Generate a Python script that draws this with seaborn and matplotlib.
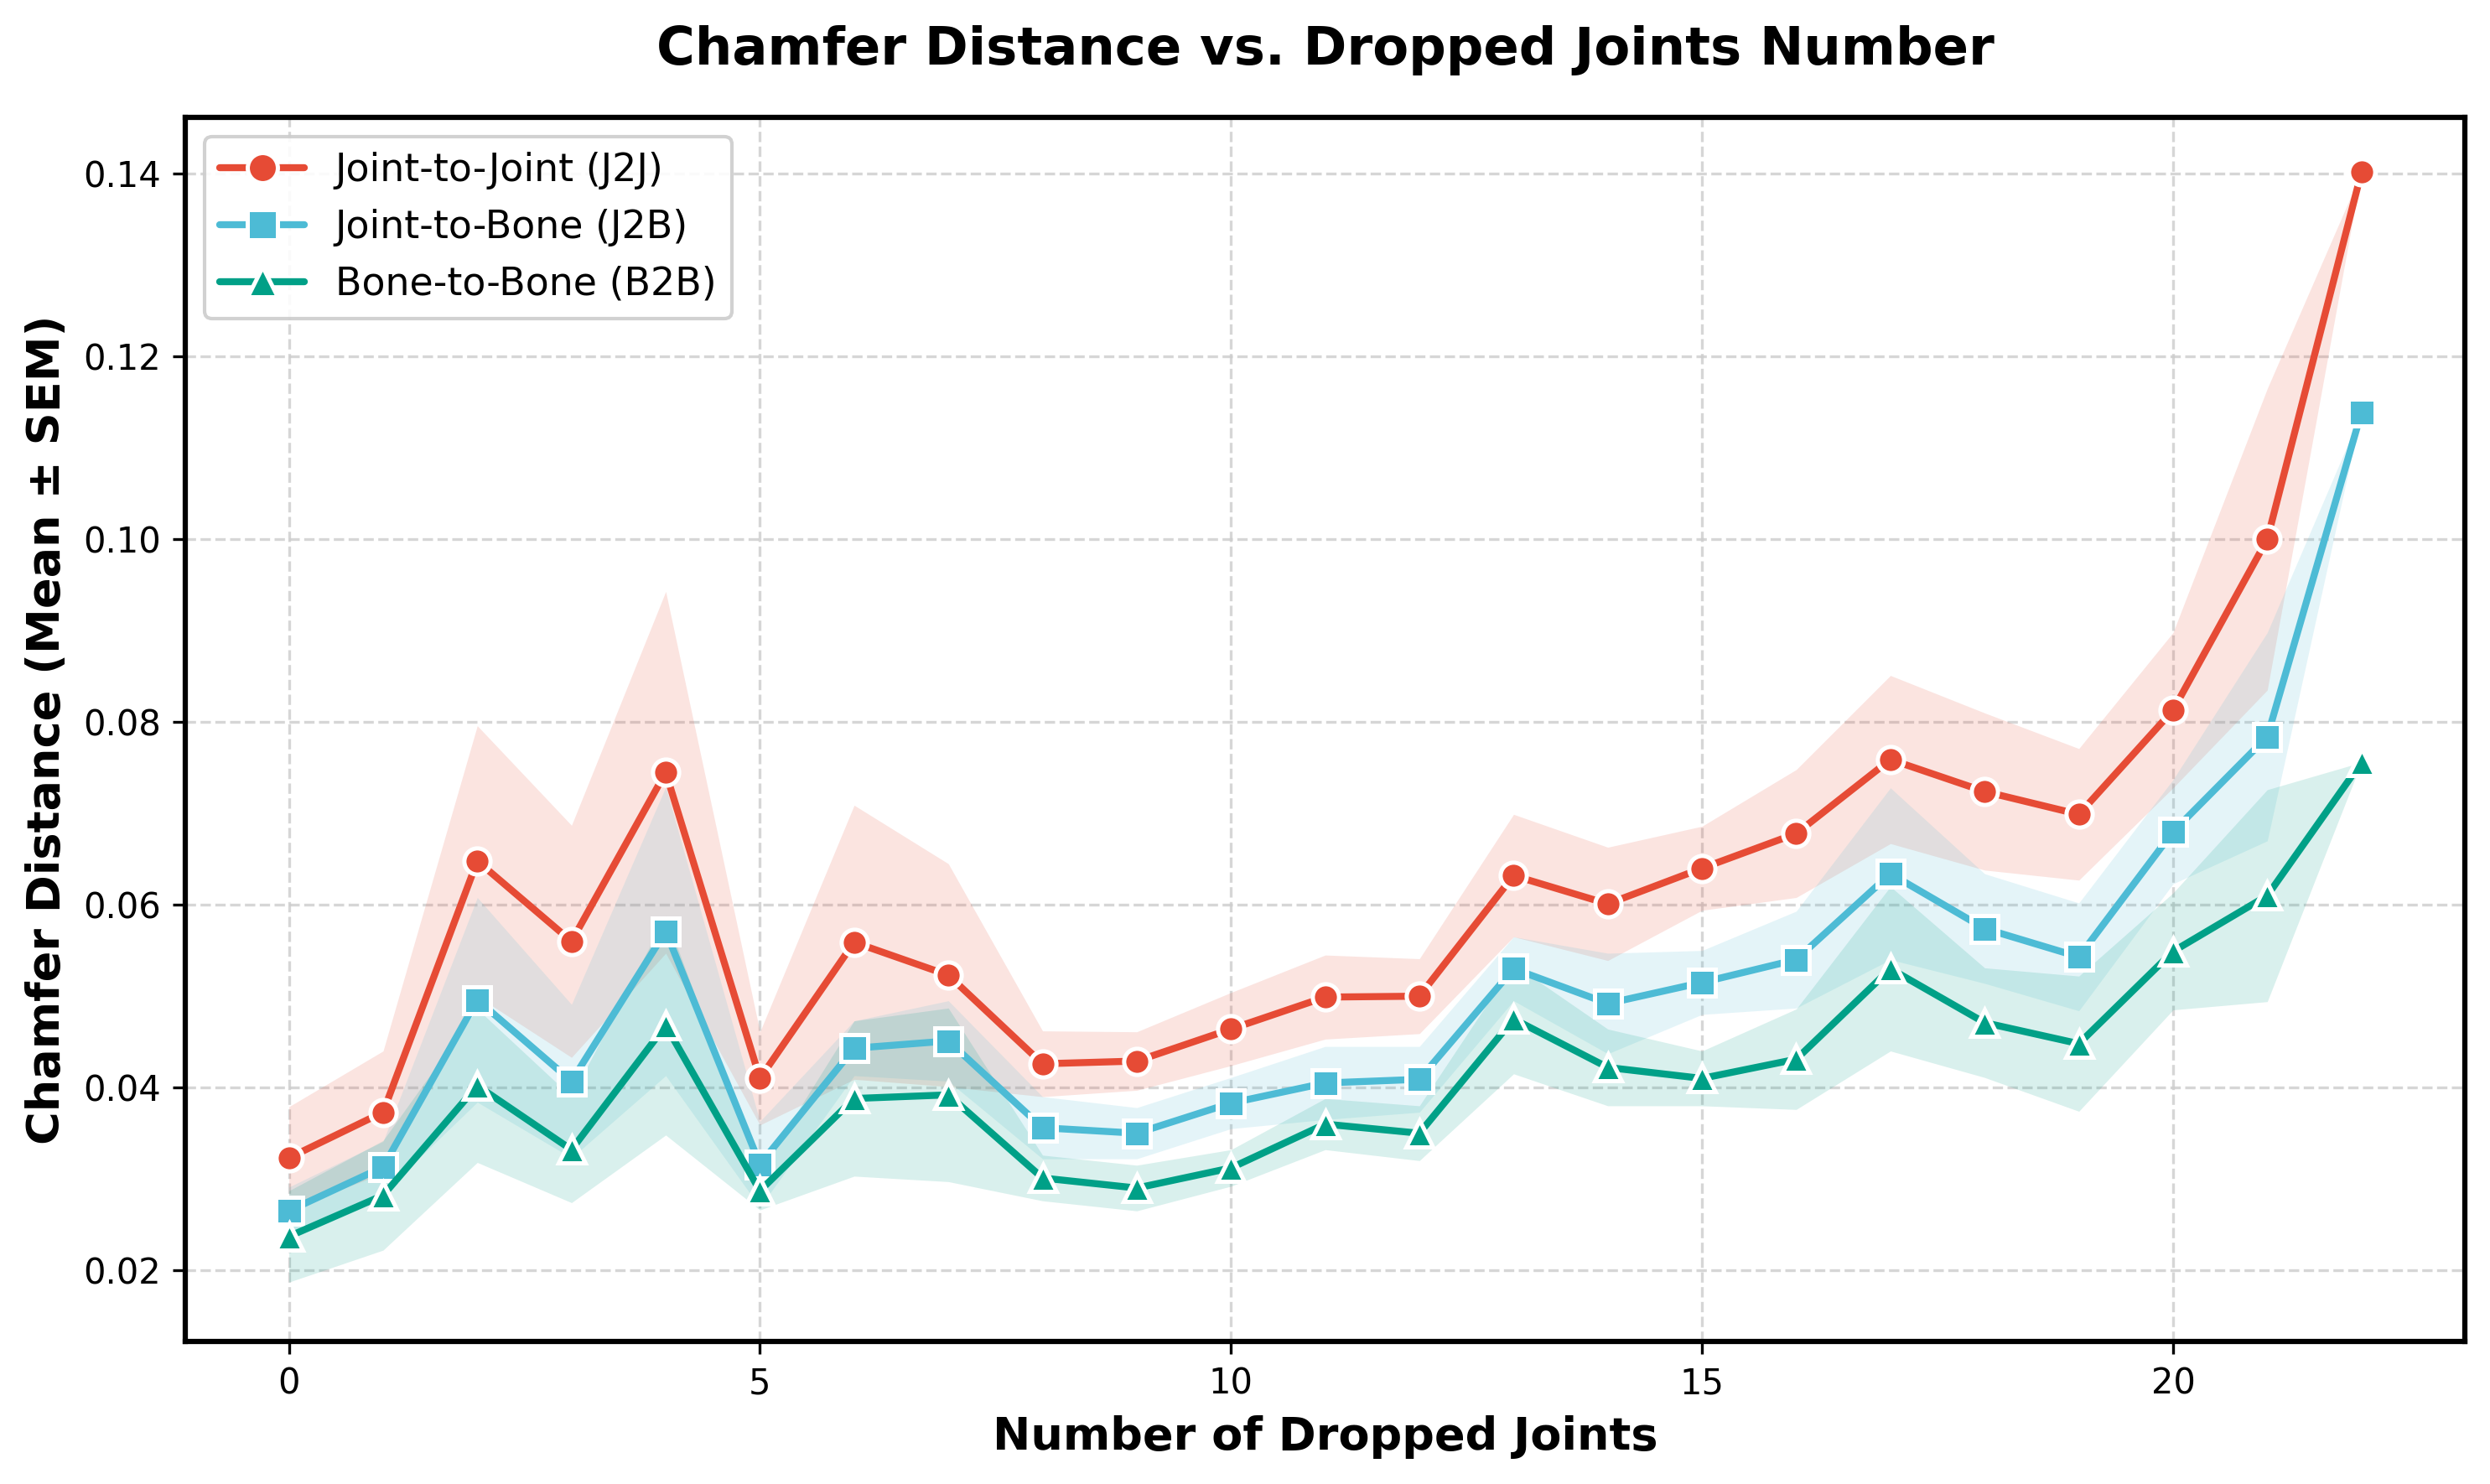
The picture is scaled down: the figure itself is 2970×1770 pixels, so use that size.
import numpy as np
import pandas as pd
import matplotlib
matplotlib.use("Agg")
import matplotlib.pyplot as plt
import seaborn as sns

# Dropped joints (x axis)
dropped = list(range(23))

# Mean chamfer distance per method
j2j_mean = [0.0323, 0.0373, 0.0648, 0.0560, 0.0745, 0.0410, 0.0559, 0.0523, 0.0426, 0.0429,
            0.0464, 0.0499, 0.0500, 0.0632, 0.0601, 0.0640, 0.0678, 0.0759, 0.0724, 0.0699,
            0.0813, 0.1000, 0.1402]
j2b_mean = [0.0265, 0.0313, 0.0496, 0.0407, 0.0571, 0.0316, 0.0443, 0.0451, 0.0356, 0.0350,
            0.0383, 0.0405, 0.0409, 0.0530, 0.0492, 0.0515, 0.0540, 0.0634, 0.0574, 0.0543,
            0.0680, 0.0784, 0.1139]
b2b_mean = [0.0237, 0.0282, 0.0402, 0.0332, 0.0468, 0.0287, 0.0388, 0.0392, 0.0301, 0.0290,
            0.0312, 0.0360, 0.0350, 0.0475, 0.0422, 0.0410, 0.0431, 0.0530, 0.0471, 0.0448,
            0.0549, 0.0610, 0.0756]

# Standard error of the mean per method
j2j_sem = [0.0056, 0.0067, 0.0148, 0.0127, 0.0198, 0.0051, 0.0150, 0.0122, 0.0036, 0.0032,
           0.0040, 0.0046, 0.0041, 0.0067, 0.0062, 0.0046, 0.0070, 0.0092, 0.0086, 0.0072,
           0.0085, 0.0165, 0.0]
j2b_sem = [0.0026, 0.0028, 0.0112, 0.0084, 0.0158, 0.0047, 0.0030, 0.0044, 0.0034, 0.0028,
           0.0028, 0.0040, 0.0036, 0.0035, 0.0055, 0.0035, 0.0053, 0.0094, 0.0060, 0.0059,
           0.0057, 0.0114, 0.0]
b2b_sem = [0.0050, 0.0060, 0.0084, 0.0058, 0.0120, 0.0021, 0.0085, 0.0095, 0.0025, 0.0025,
           0.0020, 0.0028, 0.0030, 0.0060, 0.0042, 0.0030, 0.0055, 0.0090, 0.0060, 0.0074,
           0.0064, 0.0116, 0.0]

labels = ["Joint-to-Joint (J2J)", "Joint-to-Bone (J2B)", "Bone-to-Bone (B2B)"]
colors = ["#E64B35", "#4DBBD5", "#00A087"]
markers = ["o", "s", "^"]

sns.set_style("ticks")
plt.rcParams['font.family'] = ['DejaVu Sans']
plt.rcParams['text.color'] = 'black'
plt.rcParams['axes.labelcolor'] = 'black'
plt.rcParams['xtick.color'] = 'black'
plt.rcParams['ytick.color'] = 'black'

frames = []
for lab, m, s in zip(labels, [j2j_mean, j2b_mean, b2b_mean], [j2j_sem, j2b_sem, b2b_sem]):
    frames.append(pd.DataFrame({"Dropped": dropped, "Mean": m, "SEM": s, "Method": lab}))
df = pd.concat(frames, ignore_index=True)

fig, ax = plt.subplots(figsize=(9.9, 5.9), dpi=300)

# SEM bands first
for lab, col in zip(labels, colors):
    sub = df[df["Method"] == lab]
    ax.fill_between(sub["Dropped"], sub["Mean"] - sub["SEM"], sub["Mean"] + sub["SEM"],
                    color=col, alpha=0.15, linewidth=0)

sns.lineplot(data=df, x="Dropped", y="Mean", hue="Method", style="Method",
             hue_order=labels, style_order=labels, palette=colors,
             markers=dict(zip(labels, markers)), dashes=False,
             linewidth=2.0, markersize=7.5, markeredgecolor="white", markeredgewidth=1.2,
             ax=ax)

ax.set_title("Chamfer Distance vs. Dropped Joints Number", fontsize=15, fontweight="bold", pad=15)
ax.set_xlabel("Number of Dropped Joints", fontsize=13, fontweight="bold")
ax.set_ylabel("Chamfer Distance (Mean ± SEM)", fontsize=13, fontweight="bold")
ax.set_xticks([0, 5, 10, 15, 20])
ax.set_ylim(0.0122, 0.1462)
ax.tick_params(labelsize=10)
ax.grid(True, linestyle="--", color="#CCCCCC", linewidth=0.8, alpha=0.8)
for sp in ax.spines.values():
    sp.set_linewidth(1.5)
    sp.set_color("black")

leg = ax.legend(loc="upper left", fontsize=11, frameon=True, fancybox=True, framealpha=0.9,
                markerscale=1.15, handlelength=2.2)
leg.get_frame().set_edgecolor("#CCCCCC")

fig.subplots_adjust(left=0.0744, right=0.990, top=0.921, bottom=0.096)
fig.savefig("out.png", dpi=300)
